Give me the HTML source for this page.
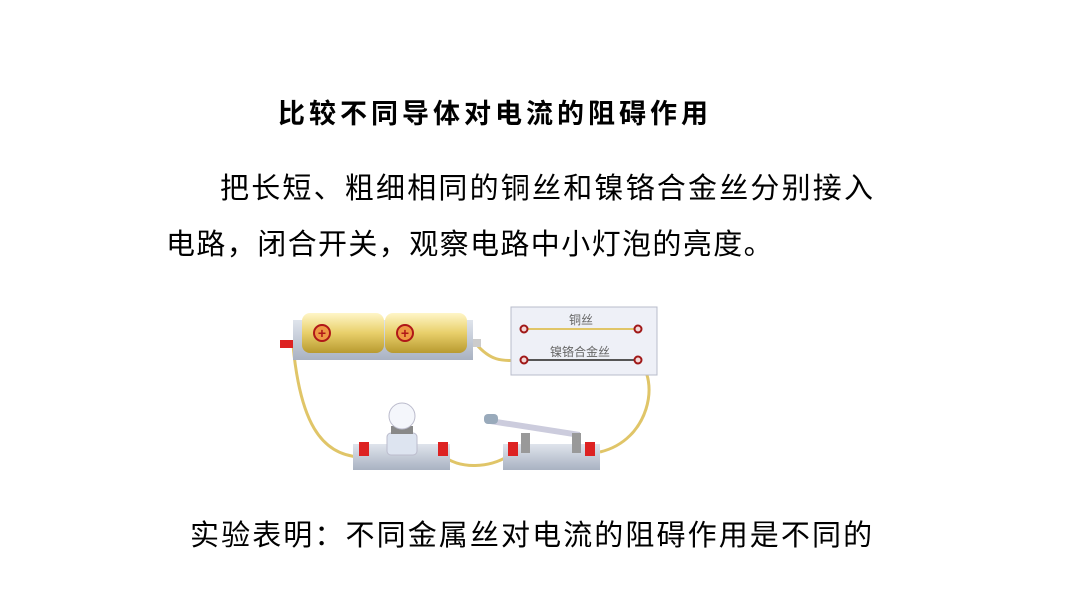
<!DOCTYPE html>
<html><head><meta charset="utf-8"><style>
body{margin:0;width:1066px;height:600px;background:#fff;position:relative;overflow:hidden;font-family:"Liberation Sans","Noto Sans CJK SC",sans-serif;color:#000}
.t{position:absolute;white-space:nowrap}
</style></head><body>
<div class="t" style="left:278px;top:92px;font-size:27px;font-weight:bold;letter-spacing:4px">比较不同导体对电流的阻碍作用</div>
<div class="t" style="left:220px;top:165px;font-size:29px;letter-spacing:2.2px">把长短、粗细相同的铜丝和镍铬合金丝分别接入</div>
<div class="t" style="left:166px;top:221px;font-size:29px;letter-spacing:1.4px">电路，闭合开关，观察电路中小灯泡的亮度。</div>
<div class="t" style="left:190px;top:512px;font-size:29px;letter-spacing:2.1px">实验表明：不同金属丝对电流的阻碍作用是不同的</div>
<svg style="position:absolute;left:0;top:0" width="1066" height="600">
<defs>
<linearGradient id="bat" x1="0" y1="0" x2="0" y2="1"><stop offset="0" stop-color="#fff6c8"/><stop offset=".5" stop-color="#e8cf6a"/><stop offset="1" stop-color="#b89a30"/></linearGradient>
<linearGradient id="base" x1="0" y1="0" x2="0" y2="1"><stop offset="0" stop-color="#dfe4ec"/><stop offset="1" stop-color="#a9b2c2"/></linearGradient>
</defs>
<g fill="none" stroke="#e0c568" stroke-width="3">
<path d="M293 345 C300 420 320 455 360 457"/>
<path d="M476 344 C490 360 500 362 524 360"/>
<path d="M638 360 C660 380 650 440 600 452"/>
<path d="M442 455 C460 470 490 468 510 455"/>
</g>
<rect x="293" y="320" width="180" height="40" fill="url(#base)"/>
<rect x="302" y="313" width="82" height="40" rx="8" fill="url(#bat)"/>
<rect x="385" y="313" width="82" height="40" rx="8" fill="url(#bat)"/>
<circle cx="322" cy="333" r="8" fill="#e94" stroke="#b01818" stroke-width="2"/><text x="322" y="338" font-size="14" text-anchor="middle" fill="#b01818" font-weight="bold">+</text>
<circle cx="405" cy="333" r="8" fill="#e94" stroke="#b01818" stroke-width="2"/><text x="405" y="338" font-size="14" text-anchor="middle" fill="#b01818" font-weight="bold">+</text>
<rect x="280" y="340" width="13" height="8" fill="#d22"/>
<rect x="473" y="339" width="8" height="8" fill="#ccc"/>
<rect x="511" y="307" width="146" height="68" fill="#eef0f7" stroke="#b8bccb"/>
<line x1="524" y1="329" x2="638" y2="329" stroke="#e0c568" stroke-width="2"/>
<line x1="524" y1="360" x2="638" y2="360" stroke="#555" stroke-width="2"/>
<g fill="#f3d8d8" stroke="#a01818" stroke-width="2"><circle cx="524" cy="329" r="3.5"/><circle cx="638" cy="329" r="3.5"/><circle cx="524" cy="360" r="3.5"/><circle cx="638" cy="360" r="3.5"/></g>
<text x="581" y="324" font-size="12" fill="#666" text-anchor="middle">铜丝</text>
<text x="580" y="356" font-size="12" fill="#666" text-anchor="middle">镍铬合金丝</text>
<rect x="353" y="444" width="97" height="26" fill="url(#base)"/>
<rect x="387" y="433" width="30" height="22" rx="4" fill="#dde4f0" stroke="#bbc"/>
<rect x="391" y="426" width="22" height="8" fill="#888"/>
<circle cx="402" cy="416" r="13" fill="#f4f6fb" stroke="#bbc"/>
<rect x="503" y="444" width="97" height="26" fill="url(#base)"/>
<path d="M490 418 L580 432 L580 438 L490 424Z" fill="#ccd"/>
<rect x="484" y="414" width="14" height="10" rx="4" fill="#9ab"/>
<rect x="521" y="433" width="9" height="20" fill="#999"/>
<rect x="572" y="433" width="9" height="20" fill="#999"/>
<g fill="#d22"><rect x="359" y="442" width="10" height="14"/><rect x="438" y="442" width="10" height="14"/><rect x="508" y="442" width="10" height="14"/><rect x="585" y="442" width="10" height="14"/></g>
</svg>
</body></html>
